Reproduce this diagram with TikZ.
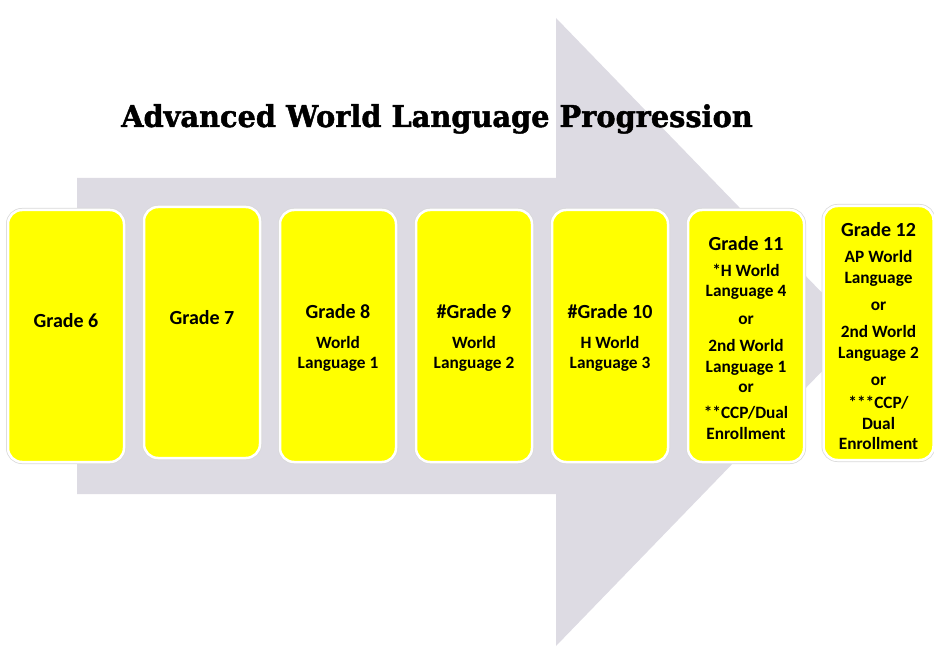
\documentclass[tikz,border=0pt]{standalone}
\usepackage{fontspec}
\setmainfont{Carlito}
\newfontfamily\titlefont[FakeStretch=0.96,FakeBold=1.5]{DejaVu Serif Bold}
\definecolor{arrowgray}{RGB}{221,219,227}
\definecolor{boxyellow}{RGB}{255,255,0}
\newcommand{\head}[1]{{\fontsize{20}{24}\selectfont #1}}
\tikzset{
  gbox/.style={rounded corners=14pt, fill=boxyellow, draw=white, line width=2.5pt,
    preaction={draw=gray!30, line width=4pt},
    minimum width=116pt, minimum height=252pt, inner sep=0pt},
  gtext/.style={align=center, inner sep=0pt,
    font=\bfseries\fontsize{17.3}{20.3}\selectfont},
}
\begin{document}
\begin{tikzpicture}[x=1pt,y=-1pt]
\useasboundingbox (0,0) rectangle (934,647);
%%%%%%%%%%%%%%%%%%%%%%%%%%%%%%% big grey arrow behind the grades
\fill[arrowgray] (77,178) -- (556,178) -- (556,18) -- (860,332)
  -- (556,646) -- (556,494) -- (77,494) -- cycle;
%%%%%%%%%%%%%%%%%%%%%%%%%%%%%%% title
\node(title) [anchor=base] at (437,127){\titlefont\fontsize{30}{34}\selectfont Advanced World Language Progression};
%%%%%%%%%%%%%%%%%%%%%%%%%%%%%%% grade boxes
\node[gbox](g6) at (66,336){};
\node[gbox, minimum height=251pt](g7) at (202,332.5){};
\node[gbox](g8) at (338,336){};
\node[gbox](g9) at (474,336){};
\node[gbox](g10) at (610,336){};
\node[gbox](g11) at (746,336){};
\node[gbox, minimum width=110pt, minimum height=254pt](g12) at (878.5,333){};
%%%%%%%%%%%%%%%%%%%%%%%%%%%%%%% box texts
\node[gtext](t6) at (66,321){\head{Grade 6}};
\node[gtext](t7) at (202,318){\head{Grade 7}};
\node[gtext](t8) at (338,338){\head{Grade 8}\\[9pt]World\\Language 1};
\node[gtext](t9) at (474,338){\head{\#Grade 9}\\[9pt]World\\Language 2};
\node[gtext](t10) at (610,338){\head{\#Grade 10}\\[9pt]H World\\Language 3};
\node[gtext](t11) at (746,338){\head{Grade 11}\\[5pt]*H World\\Language 4\\[8pt]or\\[7pt]2nd World\\Language 1\\or\\[6pt]**CCP/Dual\\Enrollment};
\node[gtext](t12) at (878.5,336){\head{Grade 12}\\[6pt]AP World\\Language\\[7pt]or\\[7pt]2nd World\\Language 2\\[7pt]or\\[3pt]***CCP/\\Dual\\Enrollment};
\end{tikzpicture}
\end{document}
